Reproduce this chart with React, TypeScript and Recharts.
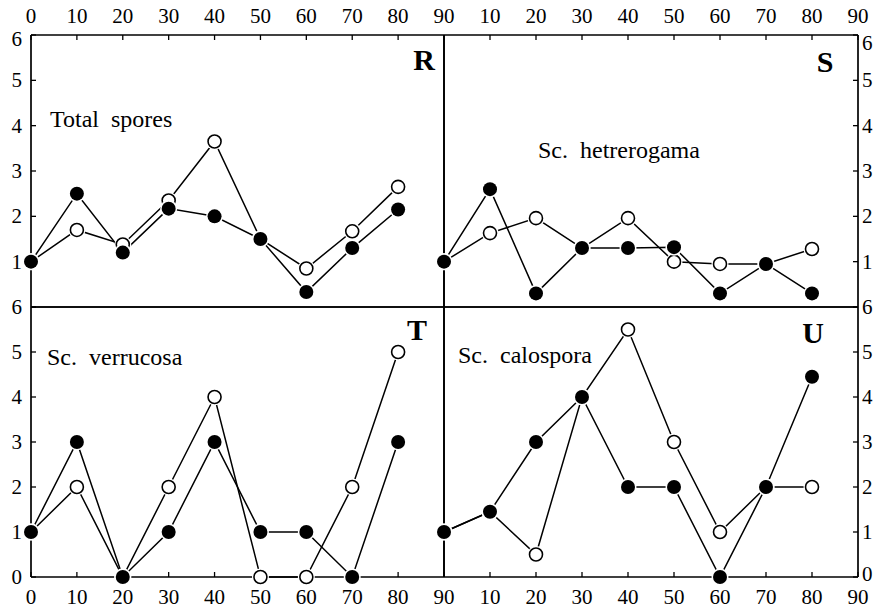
import React from 'react';
import { LineChart, Line, XAxis, YAxis } from 'recharts';

const depths = [0, 10, 20, 30, 40, 50, 60, 70, 80];
const xTicks = [0, 10, 20, 30, 40, 50, 60, 70, 80, 90];
const yTicks = [0, 1, 2, 3, 4, 5, 6];

const totalFilled = [1.0, 2.5, 1.2, 2.17, 2.0, 1.5, 0.33, 1.3, 2.15];
const totalOpen = [1.0, 1.7, 1.38, 2.35, 3.65, 1.5, 0.85, 1.67, 2.65];
const hetFilled = [1.0, 2.6, 0.3, 1.3, 1.3, 1.32, 0.3, 0.95, 0.3];
const hetOpen = [1.0, 1.63, 1.96, 1.3, 1.96, 1.0, 0.95, 0.95, 1.28];
const verFilled = [1, 3, 0, 1, 3, 1, 1, 0, 3];
const verOpen = [1, 2, 0, 2, 4, 0, 0, 2, 5];
const calFilled = [1, 1.45, 3, 4, 2, 2, 0, 2, 4.45];
const calOpen = [1, 1.45, 0.5, 4, 5.5, 3, 1, 2, 2];

const FONT = '"Liberation Serif", "DejaVu Serif", serif';
const TICK_FS = 21;

const FilledDot = (props: any) => {
  const { cx, cy } = props;
  if (cx == null || cy == null) return null;
  return (
    <g>
      <circle cx={cx} cy={cy} r={8.5} fill="#fff" />
      <circle cx={cx} cy={cy} r={7} fill="#000" />
    </g>
  );
};

const OpenDot = (props: any) => {
  const { cx, cy } = props;
  if (cx == null || cy == null) return null;
  return (
    <g>
      <circle cx={cx} cy={cy} r={8.5} fill="#fff" />
      <circle cx={cx} cy={cy} r={6.5} fill="#fff" stroke="#000" strokeWidth={1.6} />
    </g>
  );
};

const makeTick = (kind: 'top' | 'bottom' | 'left' | 'right', isTopRow: boolean) => (props: any) => {
  const { x, y, payload } = props;
  const v = payload && payload.value;
  const hideZero = kind === 'top' || kind === 'bottom' ? false : isTopRow;
  if (hideZero && v === 0) return <g />;
  let ty = y;
  let anchor: 'start' | 'middle' | 'end' = 'middle';
  if (kind === 'top') {
    ty = y;
  } else if (kind === 'bottom') {
    ty = y + 16;
  } else if (kind === 'left') {
    anchor = 'end';
    ty = y + 7 + (isTopRow && v === 6 ? 4 : 0);
  } else {
    anchor = 'start';
    ty = y + 7 + (isTopRow && v === 6 ? 8 : 0) - (!isTopRow && v === 0 ? 3 : 0);
  }
  return (
    <text x={x} y={ty} textAnchor={anchor} fill="#000" style={{ fontFamily: FONT, fontSize: TICK_FS }}>
      {String(v)}
    </text>
  );
};

const makeXTick = (kind: 'top' | 'bottom', hideZero: boolean) => (props: any) => {
  const v = props.payload && props.payload.value;
  if (hideZero && v === 0) return <g />;
  return makeTick(kind, false)(props);
};

type PanelProps = {
  filled: number[];
  open: number[];
  side: 'left' | 'right';
  row: 'top' | 'bottom';
};

const Panel = ({ filled, open, side, row }: PanelProps) => {
  const data = depths.map((d, i) => ({ depth: d, filled: filled[i], open: open[i] }));
  const isLeft = side === 'left';
  const isTop = row === 'top';
  const width = isLeft ? 447 : 437;
  const height = isTop ? 310 : 309;
  const margin = {
    top: isTop ? 0 : 3,
    bottom: isTop ? 3 : 0,
    left: isLeft ? 0 : 3,
    right: isLeft ? 3 : 0,
  };
  const axisLine = { stroke: '#000', strokeWidth: 1.7 };
  const tickLine = { stroke: '#000', strokeWidth: 1.3 };
  return (
    <div
      style={{
        position: 'absolute',
        left: isLeft ? 0 : 441,
        top: isTop ? 0 : 304,
        width,
        height,
      }}
    >
      <LineChart width={width} height={height} data={data} margin={margin}>
        <XAxis
          xAxisId="main"
          dataKey="depth"
          type="number"
          domain={[0, 90]}
          ticks={xTicks}
          orientation={isTop ? 'top' : 'bottom'}
          height={isTop ? 35 : 36}
          tickSize={-5}
          tickMargin={isTop ? 17 : 16}
          tick={makeXTick(isTop ? 'top' : 'bottom', !isLeft)}
          axisLine={axisLine}
          tickLine={tickLine}
          interval={0}
        />
        <XAxis
          xAxisId="mir"
          type="number"
          domain={[0, 90]}
          ticks={xTicks}
          orientation={isTop ? 'bottom' : 'top'}
          mirror
          tick={false}
          tickSize={5}
          axisLine={axisLine}
          tickLine={tickLine}
          interval={0}
        />
        <YAxis
          yAxisId="main"
          type="number"
          domain={[0, 6]}
          ticks={yTicks}
          orientation={isLeft ? 'left' : 'right'}
          width={isLeft ? 31 : 20}
          tickSize={-5}
          tickMargin={isLeft ? 14 : 9}
          tick={makeTick(isLeft ? 'left' : 'right', isTop)}
          axisLine={axisLine}
          tickLine={tickLine}
          interval={0}
        />
        <YAxis
          yAxisId="mir"
          type="number"
          domain={[0, 6]}
          ticks={yTicks}
          orientation={isLeft ? 'right' : 'left'}
          mirror
          tick={false}
          tickSize={5}
          axisLine={axisLine}
          tickLine={tickLine}
          interval={0}
        />
        <Line
          xAxisId="main"
          yAxisId="main"
          dataKey="open"
          stroke="#000"
          strokeWidth={1.5}
          dot={<OpenDot />}
          activeDot={false}
          isAnimationActive={false}
          type="linear"
        />
        <Line
          xAxisId="main"
          yAxisId="main"
          dataKey="filled"
          stroke="#000"
          strokeWidth={1.5}
          dot={<FilledDot />}
          activeDot={false}
          isAnimationActive={false}
          type="linear"
        />
      </LineChart>
    </div>
  );
};

const titleStyle: React.CSSProperties = { fontFamily: FONT, fontSize: 24, whiteSpace: 'pre' };
const letterStyle: React.CSSProperties = { fontFamily: FONT, fontSize: 30, fontWeight: 'bold' };

export default function App() {
  return (
    <div style={{ position: 'absolute', left: 0, top: 0, width: 878, height: 613, background: '#fff' }}>
      <style>{`.recharts-surface{overflow:visible}`}</style>
      <Panel filled={totalFilled} open={totalOpen} side="left" row="top" />
      <Panel filled={hetFilled} open={hetOpen} side="right" row="top" />
      <Panel filled={verFilled} open={verOpen} side="left" row="bottom" />
      <Panel filled={calFilled} open={calOpen} side="right" row="bottom" />
      <svg
        width={878}
        height={613}
        style={{ position: 'absolute', left: 0, top: 0, pointerEvents: 'none' }}
      >
        <text x={50} y={127} style={titleStyle}>Total  spores</text>
        <text x={538} y={158} style={titleStyle}>Sc.  hetrerogama</text>
        <text x={47} y={365} style={titleStyle}>Sc.  verrucosa</text>
        <text x={458} y={363} style={titleStyle}>Sc.  calospora</text>
        <text x={424} y={70} textAnchor="middle" style={letterStyle}>R</text>
        <text x={825} y={72} textAnchor="middle" style={letterStyle}>S</text>
        <text x={417} y={340} textAnchor="middle" style={letterStyle}>T</text>
        <text x={813} y={343} textAnchor="middle" style={letterStyle}>U</text>
      </svg>
    </div>
  );
}
